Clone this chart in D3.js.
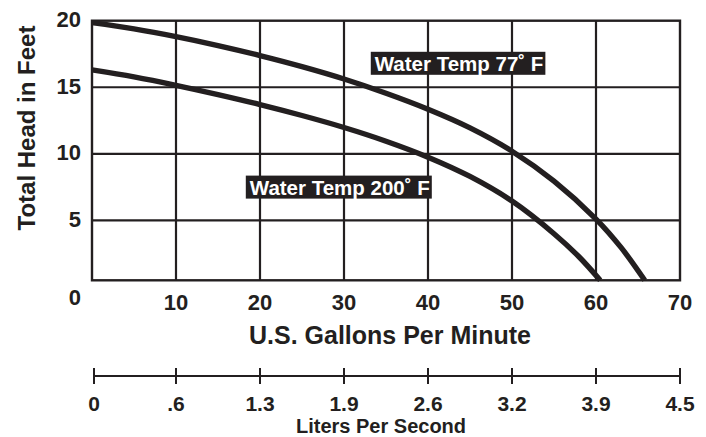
<!DOCTYPE html>
<html>
<head>
<meta charset="utf-8">
<script src="https://cdn.jsdelivr.net/npm/d3@7"></script>
<style>
  html, body { margin: 0; padding: 0; background: #fff; }
  svg { display: block; }
  text { font-family: "Liberation Sans", Arial, Helvetica, sans-serif; fill: #231f20; }
</style>
</head>
<body>
<svg id="chart" width="706" height="437"></svg>
<script>
// ---- data ----
const xTicks = [10, 20, 30, 40, 50, 60, 70];
const yTicks = [0, 5, 10, 15, 20];
const gpm77 = [0, 5, 10, 15, 20, 25, 30, 35, 40, 45, 50, 55, 60, 63, 65.8];
const head77 = [19.85, 19.38, 18.8, 18.13, 17.38, 16.55, 15.62, 14.55, 13.35, 11.95, 10.2, 7.95, 5.1, 2.95, 0.5];
const gpm200 = [0, 5, 10, 15, 20, 25, 30, 35, 40, 45, 50, 55, 58, 60.5];
const head200 = [16.3, 15.78, 15.15, 14.45, 13.7, 12.88, 11.98, 10.95, 9.75, 8.3, 6.45, 4.0, 2.25, 0.5];
const lpsTickGpm = [0, 10, 20, 30, 40, 50, 60, 70];
const lpsLabels = ["0", ".6", "1.3", "1.9", "2.6", "3.2", "3.9", "4.5"];
const seriesLabels = ["Water Temp 77\u02DA F", "Water Temp 200\u02DA F"];
const labelAnchors = [[43.7, 16.8], [29.5, 7.5]];

// ---- layout ----
const ink = "#231f20";
const svg = d3.select("#chart");
const x = d3.scaleLinear().domain([0, 70]).range([92, 680]);
const y = d3.scaleLinear().domain([0.5, 20]).range([280.3, 20.7]);

// grid
const g = svg.append("g");
g.selectAll("line.v").data(xTicks.filter(d => d < 70)).join("line")
  .attr("x1", d => x(d)).attr("x2", d => x(d))
  .attr("y1", y(20)).attr("y2", y(0.5))
  .attr("stroke", ink).attr("stroke-width", 2.2);
g.selectAll("line.h").data(yTicks.filter(d => d > 0 && d < 20)).join("line")
  .attr("x1", x(0)).attr("x2", x(70))
  .attr("y1", d => y(d)).attr("y2", d => y(d))
  .attr("stroke", ink).attr("stroke-width", 2.2);
g.append("rect")
  .attr("x", x(0)).attr("y", y(20))
  .attr("width", x(70) - x(0)).attr("height", y(0.5) - y(20))
  .attr("fill", "none").attr("stroke", ink).attr("stroke-width", 2.4);

// curves
const line = d3.line().x(d => x(d[0])).y(d => y(d[1])).curve(d3.curveCatmullRom.alpha(0.5));
const s77 = gpm77.map((v, i) => [v, head77[i]]);
const s200 = gpm200.map((v, i) => [v, head200[i]]);
[s77, s200].forEach(s => {
  svg.append("path").datum(s).attr("d", line)
    .attr("fill", "none").attr("stroke", ink).attr("stroke-width", 5.4)
    .attr("stroke-linecap", "butt");
});

// series labels
seriesLabels.forEach((lab, i) => {
  const [gx, gy] = labelAnchors[i];
  const lg = svg.append("g");
  const t = lg.append("text")
    .attr("x", x(gx)).attr("y", y(gy))
    .attr("text-anchor", "middle").attr("dominant-baseline", "central")
    .style("font-size", "20.5px").style("font-weight", "bold").style("fill", "#fff")
    .text(lab);
  const bb = t.node().getBBox();
  lg.insert("rect", "text")
    .attr("x", bb.x - 4).attr("y", y(gy) - 11.5)
    .attr("width", bb.width + 6).attr("height", 23)
    .attr("fill", ink);
});

// y tick labels
svg.selectAll("text.yt").data(yTicks).join("text")
  .attr("class", "yt")
  .attr("x", 81)
  .attr("y", d => d === 0 ? y(0) + 18.5 : y(d) + 6.5)
  .attr("text-anchor", "end")
  .style("font-size", "22px").style("font-weight", "bold")
  .text(d => d);

// x tick labels
svg.selectAll("text.xt").data(xTicks).join("text")
  .attr("class", "xt")
  .attr("x", d => x(d)).attr("y", 309.5)
  .attr("text-anchor", "middle")
  .style("font-size", "22px").style("font-weight", "bold")
  .text(d => d);

// x title
svg.append("text").attr("x", 390).attr("y", 344)
  .attr("text-anchor", "middle")
  .style("font-size", "25px").style("font-weight", "bold")
  .text("U.S. Gallons Per Minute");

// y title
svg.append("text")
  .attr("transform", "translate(35,128) rotate(-90)")
  .attr("text-anchor", "middle")
  .style("font-size", "24px").style("font-weight", "bold")
  .text("Total Head in Feet");

// liters per second axis
const la = svg.append("g");
la.append("line").attr("x1", x(0) + 2).attr("x2", x(70))
  .attr("y1", 376).attr("y2", 376).attr("stroke", ink).attr("stroke-width", 2);
la.selectAll("line.t").data(lpsTickGpm).join("line")
  .attr("x1", (d, i) => i === 0 ? x(d) + 2 : x(d)).attr("x2", (d, i) => i === 0 ? x(d) + 2 : x(d))
  .attr("y1", 368).attr("y2", 384)
  .attr("stroke", ink).attr("stroke-width", 2);
la.selectAll("text").data(lpsTickGpm).join("text")
  .attr("x", (d, i) => i === 0 ? x(d) + 2 : x(d)).attr("y", 410.5)
  .attr("text-anchor", "middle")
  .style("font-size", "21px").style("font-weight", "bold")
  .text((d, i) => lpsLabels[i]);
svg.append("text").attr("x", 381).attr("y", 433)
  .attr("text-anchor", "middle")
  .style("font-size", "20px").style("font-weight", "bold")
  .text("Liters Per Second");
</script>
</body>
</html>
